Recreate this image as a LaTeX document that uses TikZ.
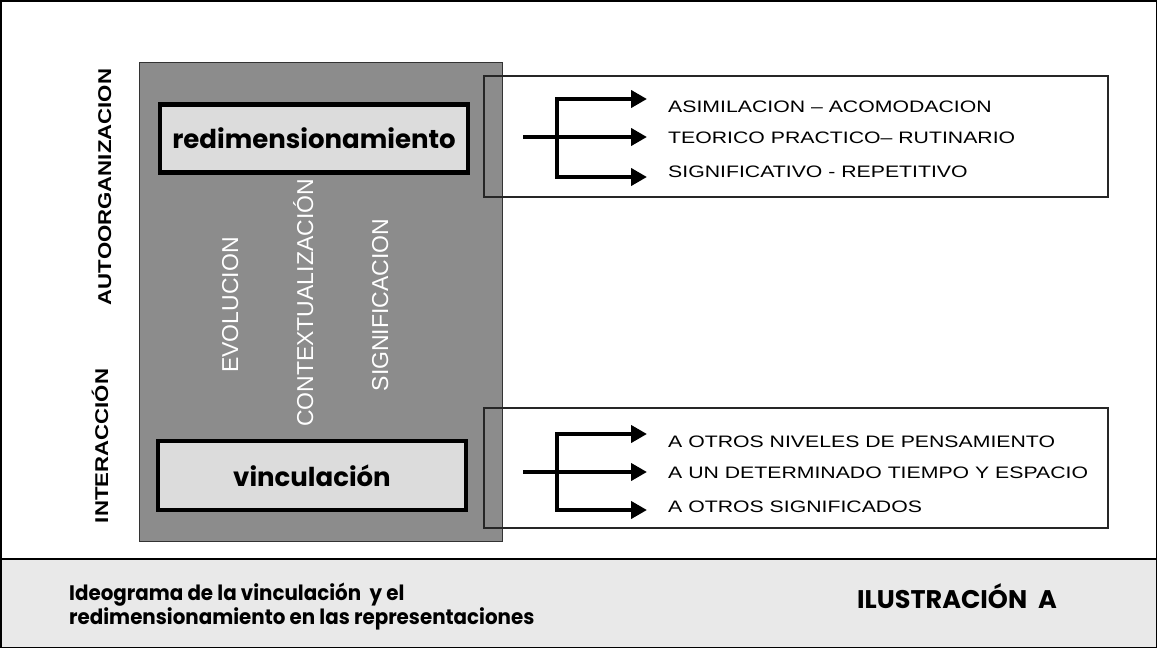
\documentclass[tikz,border=0pt]{standalone}
\usepackage{fontspec}
\usetikzlibrary{arrows.meta}
\setmainfont{Liberation Sans}
\newfontfamily\widefont[FakeStretch=1.28]{Liberation Sans}
\newfontfamily\labfont[FakeStretch=1.2]{Liberation Sans}
\newfontfamily\geofont{Poppins}
\newfontfamily\footfont[FakeStretch=0.945]{Poppins}
\definecolor{panelgray}{HTML}{8C8C8C}
\definecolor{innergray}{HTML}{DCDCDC}
\definecolor{footgray}{HTML}{E9E9E9}
\begin{document}
\begin{tikzpicture}[x=1pt,y=-1pt,
  panel/.style={draw=black!80,line width=1pt,fill=panelgray,inner sep=0pt,minimum width=363pt,minimum height=479pt},
  keybox/.style={draw=black,line width=4.5pt,fill=innergray,inner sep=0pt,minimum width=308pt,minimum height=68pt,
     font=\geofont\bfseries\fontsize{26}{30}\selectfont},
  listbox/.style={draw=black!85,line width=1.5pt,inner sep=0pt,minimum width=624pt,minimum height=121pt},
  item/.style={anchor=base west,inner sep=0pt,font=\widefont\fontsize{16.6}{18}\selectfont},
  sidelab/.style={rotate=90,anchor=base,inner sep=0pt,font=\labfont\bfseries\fontsize{18.5}{20}\selectfont},
  vlab/.style={rotate=90,anchor=base,inner sep=0pt,text=white,font=\fontsize{23}{26}\selectfont},
  arr/.style={line width=4pt,line join=miter,-{Triangle[length=16pt,width=17pt]}},
  arr2/.style={line width=4pt,line join=miter,{Triangle[length=16pt,width=17pt]}-{Triangle[length=16pt,width=17pt]}},
  foot/.style={anchor=base west,inner sep=0pt,font=\footfont\bfseries\fontsize{21}{24}\selectfont}
]
\useasboundingbox (0,0) rectangle (1157,648);
\fill[white] (0,0) rectangle (1157,648);
\fill[footgray] (0,559) rectangle (1157,648);
\draw[line width=1.5pt] (0.75,0.75) rectangle (1156.25,647.25);
\draw[line width=2pt] (0,559) -- (1157,559);

% side labels
\node[sidelab] (auto) at (111,187) {AUTOORGANIZACION};
\node[sidelab] (inter) at (108,446) {INTERACCIÓN};

% grey panel
\node[panel] (gp) at (320.5,301.5) {};
\node[keybox] (redim) at (314,138.5) {redimensionamiento};
\node[keybox,minimum height=69pt] (vinc) at (312,475.5) {vinculación};
\node[vlab] (evo) at (238,305) {EVOLUCION};
\node[vlab] (ctx) at (313,303) {CONTEXTUALIZACIÓN};
\node[vlab] (sig) at (388,305) {SIGNIFICACION};

% upper list box
\node[listbox] (ub) at (796,136.5) {};
\node[item] (u1) at (668,112) {ASIMILACION – ACOMODACION};
\node[item] (u2) at (668,143) {TEORICO PRACTICO– RUTINARIO};
\node[item] (u3) at (668,177) {SIGNIFICATIVO - REPETITIVO};
\coordinate (us) at (523,137);
\coordinate (ut1) at (647,99);
\coordinate (ut2) at (647,137);
\coordinate (ut3) at (647,177);
\draw[arr] (us) -- (ut2);
\draw[arr2] (ut1) -- (557,99) -- (557,177) -- (ut3);

% lower list box
\node[listbox,minimum height=120pt] (lb) at (796,468) {};
\node[item] (l1) at (668,447) {A OTROS NIVELES DE PENSAMIENTO};
\node[item] (l2) at (668,478) {A UN DETERMINADO TIEMPO Y ESPACIO};
\node[item] (l3) at (668,512) {A OTROS SIGNIFICADOS};
\coordinate (ls) at (523,472);
\coordinate (lt1) at (647,434);
\coordinate (lt2) at (647,472);
\coordinate (lt3) at (647,510);
\draw[arr] (ls) -- (lt2);
\draw[arr2] (lt1) -- (557,434) -- (557,510) -- (lt3);

% footer
\node[foot] (cap1) at (69,600) {Ideograma de la vinculación\ \ y el};
\node[foot] (cap2) at (69,624) {redimensionamiento en las representaciones};
\node[foot,font=\geofont\bfseries\fontsize{25.5}{28}\selectfont] (ilus) at (857,608) {ILUSTRACIÓN\ \ A};
\end{tikzpicture}
\end{document}
